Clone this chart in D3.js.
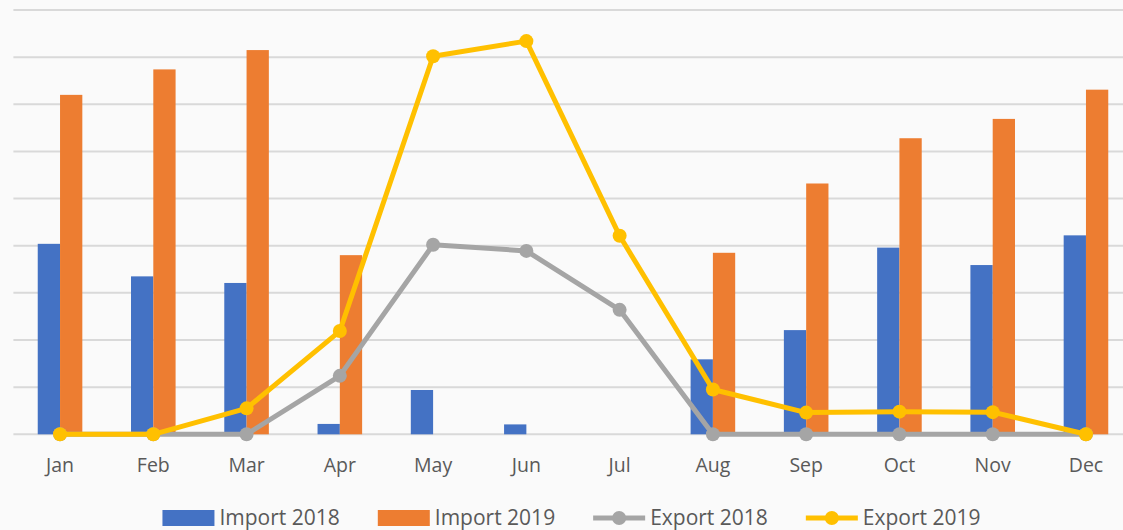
<!DOCTYPE html>
<html>
<head>
<meta charset="utf-8">
<script src="https://cdn.jsdelivr.net/npm/d3@7"></script>
<style>
  html, body { margin: 0; padding: 0; background: #fafafa; overflow: hidden; }
  #chart { width: 1123px; height: 530px; }
</style>
</head>
<body>
<div id="chart"></div>
<script>
// Chart data
const months = ['Jan', 'Feb', 'Mar', 'Apr', 'May', 'Jun', 'Jul', 'Aug', 'Sep', 'Oct', 'Nov', 'Dec'];
const import2018 = [4.04, 3.35, 3.21, 0.22, 0.94, 0.21, 0, 1.59, 2.21, 3.96, 3.59, 4.22];
const import2019 = [7.20, 7.74, 8.15, 3.80, 0, 0, 0, 3.85, 5.32, 6.28, 6.69, 7.31];
const export2018 = [0, 0, 0, 1.24, 4.02, 3.89, 2.64, 0, 0, 0, 0, 0];
const export2019 = [0, 0, 0.55, 2.19, 8.02, 8.34, 4.21, 0.95, 0.46, 0.48, 0.47, 0];
const gridTicks = [0, 1, 2, 3, 4, 5, 6, 7, 8, 9];

const barSeries = [
  { name: 'Import 2018', values: import2018, color: '#4472c4' },
  { name: 'Import 2019', values: import2019, color: '#ed7d31' }
];
const lineSeries = [
  { name: 'Export 2018', values: export2018, color: '#a5a5a5' },
  { name: 'Export 2019', values: export2019, color: '#ffc000' }
];

document.addEventListener('DOMContentLoaded', function() {
  const width = 1123;
  const height = 530;
  const font = '"Open Sans", "Liberation Sans", sans-serif';

  const svg = d3.select('#chart').append('svg')
    .attr('width', width)
    .attr('height', height)
    .style('background', '#fafafa');

  // Scales (plot runs past the right edge, like the cropped original)
  const x = d3.scaleBand()
    .domain(months)
    .range([13.4, 1132.6]);

  const groupWidth = x.bandwidth() * 0.478;
  const xInner = d3.scaleBand()
    .domain(barSeries.map(s => s.name))
    .range([-groupWidth / 2, groupWidth / 2]);

  const y = d3.scaleLinear()
    .domain([0, 9])
    .range([434.3, 10]);

  const cx = m => x(m) + x.bandwidth() / 2;

  // Gridlines
  svg.append('g')
    .attr('class', 'grid')
    .selectAll('line')
    .data(gridTicks)
    .enter().append('line')
    .attr('x1', x.range()[0])
    .attr('x2', width)
    .attr('y1', d => y(d))
    .attr('y2', d => y(d))
    .attr('stroke', '#d9d9d9')
    .attr('stroke-width', 2);

  // Bars
  barSeries.forEach(s => {
    svg.append('g')
      .selectAll('rect')
      .data(months.map((m, i) => ({ m, v: s.values[i] })))
      .enter().append('rect')
      .attr('x', d => cx(d.m) + xInner(s.name))
      .attr('width', xInner.bandwidth())
      .attr('y', d => y(d.v))
      .attr('height', d => y(0) - y(d.v))
      .attr('fill', s.color);
  });

  // Lines with markers
  const line = d3.line()
    .x(d => cx(d.m))
    .y(d => y(d.v));

  lineSeries.forEach(s => {
    const pts = months.map((m, i) => ({ m, v: s.values[i] }));
    const g = svg.append('g');
    g.append('path')
      .datum(pts)
      .attr('d', line)
      .attr('fill', 'none')
      .attr('stroke', s.color)
      .attr('stroke-width', 5)
      .attr('stroke-linejoin', 'round');
    g.selectAll('circle')
      .data(pts)
      .enter().append('circle')
      .attr('cx', d => cx(d.m))
      .attr('cy', d => y(d.v))
      .attr('r', 7)
      .attr('fill', s.color);
  });

  // X axis labels
  const xAxis = d3.axisBottom(x).tickSize(0).tickPadding(0);
  const axisG = svg.append('g')
    .attr('transform', 'translate(0, 458)')
    .call(xAxis);
  axisG.select('.domain').remove();
  axisG.selectAll('text')
    .attr('dy', '0.71em')
    .style('font-family', font)
    .style('font-size', '19.5px')
    .attr('fill', '#595959');

  // Legend
  const legendItems = barSeries.map(s => ({ ...s, type: 'bar' }))
    .concat(lineSeries.map(s => ({ ...s, type: 'line' })));
  const legend = svg.append('g').attr('class', 'legend');
  const swatchW = 52;
  const gap = 5;
  const itemGap = 38;
  let offset = 0;
  const legendY = 518;

  legendItems.forEach(item => {
    const g = legend.append('g').attr('transform', `translate(${offset}, 0)`);
    if (item.type === 'bar') {
      g.append('rect')
        .attr('x', 0)
        .attr('y', legendY - 8)
        .attr('width', swatchW)
        .attr('height', 16)
        .attr('fill', item.color);
    } else {
      g.append('line')
        .attr('x1', 0)
        .attr('x2', swatchW)
        .attr('y1', legendY)
        .attr('y2', legendY)
        .attr('stroke', item.color)
        .attr('stroke-width', 5);
      g.append('circle')
        .attr('cx', swatchW / 2)
        .attr('cy', legendY)
        .attr('r', 7)
        .attr('fill', item.color);
    }
    const t = g.append('text')
      .attr('x', swatchW + gap)
      .attr('y', legendY)
      .attr('dy', '0.35em')
      .style('font-family', font)
      .style('font-size', '21px')
      .attr('fill', '#595959')
      .text(item.name);
    offset += swatchW + gap + t.node().getComputedTextLength() + itemGap;
  });

  const legendWidth = offset - itemGap;
  legend.attr('transform', `translate(${571.5 - legendWidth / 2}, 0)`);
});
</script>
</body>
</html>
